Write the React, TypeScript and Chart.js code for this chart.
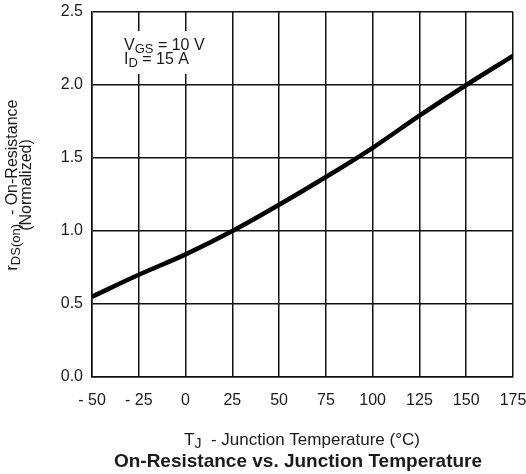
import React, { useEffect, useRef } from 'react';
import { Chart, registerables } from 'chart.js';

Chart.register(...registerables);

// ---- data ----
const temperatures = [-50, -25, 0, 25, 50, 75, 100, 125, 150, 175];
const rdsNormalized = [0.55, 0.7, 0.84, 1.0, 1.18, 1.37, 1.57, 1.79, 2.0, 2.2];
const xMin = -50;
const xMax = 175;
const xStep = 25;
const yMin = 0;
const yMax = 2.5;
const yStep = 0.5;

// ---- texts (parts with sub = subscript) ----
type Part = { t: string; sub?: boolean };
const condLine1: Part[] = [{ t: 'V' }, { t: 'GS', sub: true }, { t: ' = 10 V' }];
const condLine2: Part[] = [{ t: 'I' }, { t: 'D', sub: true }, { t: ' = 15 A' }];
const yTitle1: Part[] = [{ t: 'r' }, { t: 'DS(on)', sub: true }, { t: '  - On-Resistance' }];
const yTitle2: Part[] = [{ t: '(Normalized)' }];
const xTitle: Part[] = [{ t: 'T' }, { t: 'J', sub: true }, { t: '  - Junction Temperature (°C)' }];
const chartTitle = 'On-Resistance vs. Junction Temperature';

const FONT = '"Liberation Sans", Arial, Helvetica, sans-serif';
const TEXT = '#1a1a1a';

function drawRich(
  ctx: CanvasRenderingContext2D,
  parts: Part[],
  x: number,
  y: number,
  size: number,
  align: 'left' | 'center'
) {
  const subSize = Math.round(size * 0.8);
  let total = 0;
  for (const p of parts) {
    ctx.font = `${p.sub ? subSize : size}px ${FONT}`;
    total += ctx.measureText(p.t).width;
  }
  let cx = align === 'center' ? x - total / 2 : x;
  ctx.textAlign = 'left';
  ctx.textBaseline = 'alphabetic';
  for (const p of parts) {
    ctx.font = `${p.sub ? subSize : size}px ${FONT}`;
    ctx.fillText(p.t, cx, y + (p.sub ? size * 0.2 : 0));
    cx += ctx.measureText(p.t).width;
  }
}

const textPlugin = {
  id: 'textPlugin',
  afterDraw(chart: any) {
    const ctx: CanvasRenderingContext2D = chart.ctx;
    ctx.save();
    // white box behind the conditions text
    ctx.fillStyle = '#fff';
    ctx.fillRect(118, 31, 96, 43);
    ctx.fillStyle = TEXT;
    // conditions
    drawRich(ctx, condLine1, 124, 50, 16, 'left');
    drawRich(ctx, condLine2, 124, 64, 16, 'left');
    // x title
    drawRich(ctx, xTitle, 302, 445, 17, 'center');
    // chart title
    ctx.font = `bold 19px ${FONT}`;
    ctx.textAlign = 'center';
    ctx.textBaseline = 'alphabetic';
    ctx.fillText(chartTitle, 298, 467);
    // y title rotated
    ctx.save();
    ctx.translate(17, 185);
    ctx.rotate(-Math.PI / 2);
    drawRich(ctx, yTitle1, 0, 0, 16, 'center');
    ctx.restore();
    ctx.save();
    ctx.translate(31, 185);
    ctx.rotate(-Math.PI / 2);
    drawRich(ctx, yTitle2, 0, 0, 16, 'center');
    ctx.restore();
    ctx.restore();
  },
};

export default function App() {
  const ref = useRef<HTMLCanvasElement | null>(null);
  useEffect(() => {
    if (!ref.current) return;
    const chart = new Chart(ref.current, {
      type: 'line',
      data: {
        datasets: [
          {
            data: temperatures.map((t, i) => ({ x: t, y: rdsNormalized[i] })),
            borderColor: '#000',
            borderWidth: 4.5,
            pointRadius: 0,
            cubicInterpolationMode: 'monotone',
            fill: false,
          },
        ],
      },
      options: {
        responsive: false,
        animation: false,
        devicePixelRatio: 1,
        layout: { padding: { left: 0, top: 12, right: 13, bottom: 0 } },
        plugins: { legend: { display: false }, tooltip: { enabled: false }, title: { display: false } },
        scales: {
          x: {
            type: 'linear',
            min: xMin,
            max: xMax,
            afterFit: (s: any) => {
              s.height = 97;
              s.paddingLeft = 0;
              s.paddingRight = 0;
            },
            ticks: {
              stepSize: xStep,
              padding: 14,
              color: TEXT,
              font: { family: FONT, size: 16 },
              maxRotation: 0,
              autoSkip: false,
              callback: (v: any) => (v < 0 ? '- ' + Math.abs(v) : String(v)),
            },
            grid: { color: '#111', lineWidth: 1.5, drawTicks: false },
            border: { color: '#111', width: 1.5 },
          },
          y: {
            type: 'linear',
            min: yMin,
            max: yMax,
            afterFit: (s: any) => {
              s.width = 92;
              s.paddingTop = 0;
              s.paddingBottom = 0;
            },
            ticks: {
              stepSize: yStep,
              padding: 9,
              color: TEXT,
              font: { family: FONT, size: 16 },
              callback: (v: any) => Number(v).toFixed(1),
            },
            grid: { color: '#111', lineWidth: 1.5, drawTicks: false },
            border: { color: '#111', width: 1.5 },
          },
        },
      },
      plugins: [textPlugin],
    } as any);
    return () => chart.destroy();
  }, []);
  return (
    <div style={{ position: 'absolute', left: 0, top: 0, width: 526, height: 474, background: '#fff' }}>
      <canvas ref={ref} width={526} height={474} />
    </div>
  );
}
